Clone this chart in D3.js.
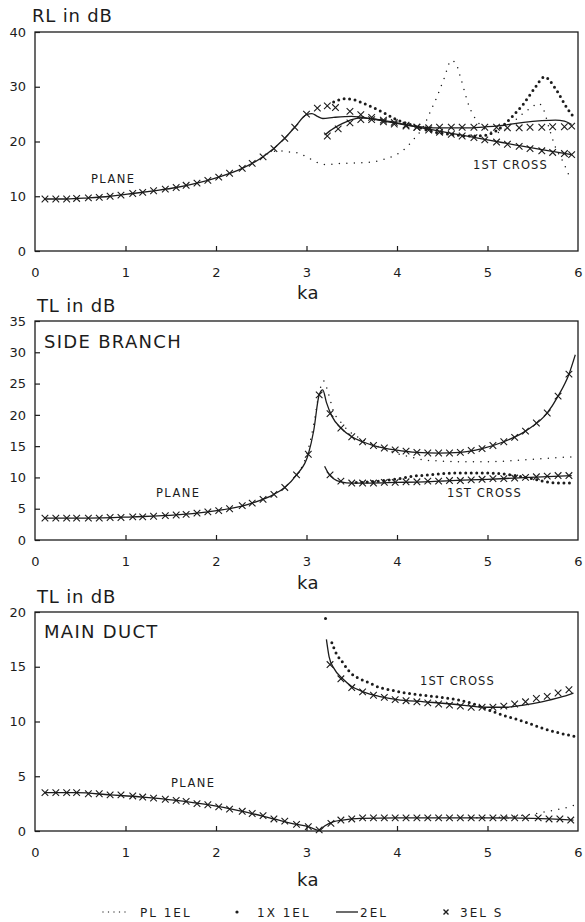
<!DOCTYPE html>
<html>
<head>
<meta charset="utf-8">
<script src="https://cdn.jsdelivr.net/npm/d3@7"></script>
<style>
  body { margin: 0; background: #fff; }
  svg { display: block; font-family: "DejaVu Sans", sans-serif; }
</style>
</head>
<body>
<script>
// axis values
const kaTicks = [0, 1, 2, 3, 4, 5, 6]
const kaInner = [1, 2, 3, 4, 5]
const rlTicks = [0, 10, 20, 30, 40]
const sideTicks = [0, 5, 10, 15, 20, 25, 30, 35]
const mainTicks = [0, 5, 10, 15, 20]

// RL panel: [ka, dB]
const rlPlane2EL = [[0.1,9.5],[0.35,9.5],[0.59,9.7],[0.83,10.0],[1.08,10.5],[1.31,11.0],[1.56,11.6],[1.79,12.4],[2.03,13.5],[2.29,15.1],[2.52,17.2],[2.76,20.6],[2.87,22.6],[3.0,24.9],[3.06,25.1],[3.12,24.6],[3.18,24.2],[3.3,24.4],[3.5,24.6],[3.7,24.2],[3.9,23.6],[4.1,23.0],[4.3,22.4],[4.5,21.8],[4.7,21.2],[5.0,20.3],[5.3,19.4],[5.6,18.5],[5.93,17.6]]
const rlCross2EL = [[3.2,21.2],[3.3,22.4],[3.4,23.3],[3.5,24.0],[3.6,24.3],[3.8,24.0],[4.0,23.4],[4.2,22.8],[4.4,22.5],[4.6,22.5],[4.8,22.5],[5.0,22.7],[5.2,23.0],[5.4,23.5],[5.6,23.8],[5.75,23.9],[5.85,23.7],[5.93,23.1]]
const rlPlane3ELS = [[0.11,9.5],[0.23,9.5],[0.35,9.5],[0.46,9.6],[0.59,9.7],[0.71,9.8],[0.83,10.0],[0.95,10.2],[1.08,10.5],[1.19,10.7],[1.31,11.0],[1.44,11.3],[1.56,11.6],[1.67,12.0],[1.79,12.4],[1.91,12.9],[2.03,13.5],[2.15,14.2],[2.29,15.1],[2.4,16.0],[2.52,17.2],[2.64,18.7],[2.76,20.6],[2.87,22.6],[3.0,25.0],[3.12,26.1],[3.23,26.5],[3.32,26.2],[3.48,25.5],[3.6,24.9],[3.72,24.4],[3.85,23.9],[3.97,23.5],[4.1,23.0],[4.22,22.6],[4.35,22.1],[4.47,21.7],[4.6,21.3],[4.72,21.0],[4.85,20.7],[4.97,20.3],[5.1,19.9],[5.22,19.5],[5.35,19.1],[5.47,18.7],[5.6,18.3],[5.72,18.0],[5.85,17.8],[5.93,17.6]]
const rlCross3ELS = [[3.23,21.0],[3.35,22.3],[3.48,23.4],[3.6,24.0],[3.72,24.0],[3.85,23.6],[3.97,23.2],[4.1,22.8],[4.22,22.6],[4.35,22.5],[4.47,22.6],[4.6,22.6],[4.72,22.6],[4.85,22.6],[4.97,22.6],[5.1,22.6],[5.22,22.5],[5.35,22.5],[5.47,22.6],[5.6,22.6],[5.72,22.7],[5.85,22.7],[5.93,22.8]]
const rlPL1EL = [[2.5,17.0],[2.6,18.0],[2.7,18.3],[2.8,18.1],[2.9,17.9],[3.0,17.2],[3.1,16.3],[3.2,15.8],[3.4,16.0],[3.6,16.1],[3.8,16.5],[3.95,17.3],[4.07,18.4],[4.18,20.3],[4.29,22.7],[4.37,25.5],[4.44,28.1],[4.52,31.5],[4.6,34.8],[4.65,34.3],[4.7,31.8],[4.8,26.3],[4.9,23.4],[5.0,22.0],[5.1,21.6],[5.2,22.3],[5.3,23.8],[5.4,25.2],[5.5,26.4],[5.56,27.0],[5.62,25.8],[5.68,22.5],[5.75,19.0],[5.84,16.1],[5.92,13.0]]
const rl1X1EL = [[3.3,27.2],[3.42,27.8],[3.53,27.6],[3.64,26.9],[3.75,26.1],[3.86,25.2],[3.97,24.2],[4.09,23.4],[4.2,22.8],[4.31,22.2],[4.42,21.7],[4.6,21.3],[4.78,21.0],[4.96,21.1],[5.06,21.6],[5.18,23.0],[5.27,24.5],[5.39,26.7],[5.52,29.7],[5.63,31.8],[5.75,29.7],[5.88,26.1],[5.95,24.5]]

// side branch TL panel
const sidePlane2EL = [[0.1,3.5],[0.59,3.5],[1.08,3.7],[1.56,4.0],[1.91,4.5],[2.15,5.0],[2.4,5.9],[2.64,7.3],[2.76,8.4],[2.89,10.4],[3.02,13.7],[3.08,17.5],[3.14,23.2],[3.18,24.0],[3.22,22.0],[3.28,19.8],[3.38,17.9],[3.5,16.5],[3.62,15.7],[3.74,15.1],[3.86,14.7],[3.98,14.4],[4.22,14.0],[4.46,13.9],[4.7,14.0],[4.94,14.6],[5.18,15.7],[5.42,17.4],[5.66,20.3],[5.78,23.0],[5.9,26.5],[5.97,29.6]]
const sideCross2EL = [[3.2,11.8],[3.25,10.5],[3.3,9.8],[3.38,9.3],[3.5,9.1],[3.7,9.1],[4.0,9.2],[4.3,9.3],[4.6,9.5],[5.0,9.7],[5.3,9.9],[5.6,10.1],[5.93,10.3]]
const sidePlane3ELS = [[0.11,3.5],[0.23,3.5],[0.35,3.5],[0.46,3.5],[0.59,3.5],[0.71,3.5],[0.83,3.6],[0.95,3.6],[1.08,3.7],[1.19,3.7],[1.31,3.8],[1.44,3.9],[1.56,4.0],[1.67,4.1],[1.79,4.3],[1.91,4.5],[2.03,4.7],[2.15,5.0],[2.29,5.5],[2.4,5.9],[2.52,6.5],[2.64,7.3],[2.76,8.4],[2.89,10.4],[3.02,13.7],[3.14,23.2],[3.26,20.2],[3.38,17.9],[3.5,16.5],[3.62,15.7],[3.74,15.1],[3.86,14.7],[3.98,14.4],[4.1,14.2],[4.22,14.0],[4.34,13.9],[4.46,13.9],[4.58,13.9],[4.7,14.0],[4.82,14.3],[4.94,14.6],[5.06,15.1],[5.18,15.7],[5.3,16.4],[5.42,17.4],[5.54,18.7],[5.66,20.3],[5.78,23.0],[5.9,26.5]]
const sideCross3ELS = [[3.26,10.4],[3.38,9.4],[3.5,9.1],[3.62,9.1],[3.74,9.1],[3.86,9.2],[3.98,9.2],[4.1,9.3],[4.22,9.3],[4.34,9.4],[4.46,9.4],[4.58,9.5],[4.7,9.5],[4.82,9.6],[4.94,9.7],[5.06,9.8],[5.18,9.8],[5.3,9.9],[5.42,10.0],[5.54,10.1],[5.66,10.2],[5.78,10.3],[5.9,10.3]]
const sidePL1EL = [[2.9,10.6],[3.0,13.5],[3.08,18.5],[3.14,23.5],[3.19,25.4],[3.24,23.5],[3.3,20.5],[3.38,18.8],[3.46,17.5],[3.55,16.6],[3.65,15.8],[3.75,15.2],[3.85,14.6],[3.95,14.1],[4.05,13.6],[4.14,13.3],[4.3,12.8],[4.5,12.6],[4.7,12.5],[5.0,12.5],[5.2,12.6],[5.4,12.8],[5.6,13.0],[5.8,13.2],[5.95,13.3]]
const side1X1EL = [[3.55,9.2],[3.7,9.3],[3.86,9.5],[4.02,9.8],[4.18,10.2],[4.34,10.4],[4.5,10.6],[4.66,10.7],[4.82,10.7],[4.98,10.7],[5.14,10.6],[5.3,10.3],[5.46,9.9],[5.62,9.4],[5.78,9.1],[5.96,9.1]]

// main duct TL panel
const mainPlane2EL = [[0.1,3.5],[0.46,3.5],[0.83,3.3],[1.19,3.1],[1.56,2.8],[1.91,2.4],[2.29,1.8],[2.64,1.1],[2.89,0.6],[3.02,0.4],[3.14,0.05],[3.2,0.45],[3.3,0.85],[3.4,1.0],[3.6,1.15],[4.0,1.2],[5.0,1.2],[5.5,1.15],[5.95,1.0]]
const mainCross2EL = [[3.22,17.5],[3.25,15.9],[3.3,14.9],[3.4,13.9],[3.5,13.2],[3.6,12.8],[3.7,12.5],[3.8,12.3],[4.0,12.0],[4.3,11.8],[4.6,11.6],[5.0,11.3],[5.2,11.3],[5.4,11.5],[5.6,11.8],[5.8,12.2],[5.95,12.6]]
const mainPlane3ELS = [[0.11,3.5],[0.23,3.5],[0.35,3.5],[0.46,3.5],[0.59,3.4],[0.71,3.4],[0.83,3.3],[0.95,3.3],[1.08,3.2],[1.19,3.1],[1.31,3.0],[1.44,2.9],[1.56,2.8],[1.67,2.7],[1.79,2.5],[1.91,2.4],[2.03,2.2],[2.15,2.0],[2.29,1.8],[2.4,1.6],[2.52,1.4],[2.64,1.1],[2.76,0.9],[2.89,0.6],[3.02,0.4],[3.14,0.1],[3.27,0.7],[3.38,1.0],[3.5,1.1],[3.62,1.2],[3.74,1.2],[3.86,1.2],[3.98,1.2],[4.1,1.2],[4.22,1.2],[4.34,1.2],[4.46,1.2],[4.58,1.2],[4.7,1.2],[4.82,1.2],[4.94,1.2],[5.06,1.2],[5.18,1.2],[5.3,1.2],[5.42,1.2],[5.56,1.2],[5.68,1.1],[5.8,1.1],[5.92,1.0]]
const mainCross3ELS = [[3.26,15.2],[3.38,13.9],[3.5,13.1],[3.62,12.7],[3.74,12.4],[3.86,12.2],[3.98,12.0],[4.1,11.9],[4.22,11.8],[4.34,11.7],[4.46,11.6],[4.58,11.5],[4.7,11.4],[4.82,11.3],[4.94,11.3],[5.06,11.3],[5.18,11.4],[5.3,11.6],[5.42,11.8],[5.54,12.1],[5.66,12.3],[5.78,12.6],[5.9,12.9]]
const mainPL1EL = [[4.8,1.2],[5.1,1.25],[5.3,1.35],[5.5,1.55],[5.7,1.85],[5.9,2.2],[5.98,2.4]]
const main1X1ELTop = [[3.21,19.4]]
const main1X1EL = [[3.28,17.2],[3.33,16.2],[3.4,15.4],[3.46,14.7],[3.52,14.2],[3.59,13.9],[3.7,13.5],[3.81,13.1],[3.92,12.9],[4.1,12.6],[4.29,12.4],[4.5,12.2],[4.66,12.0],[4.85,11.6],[5.03,11.0],[5.2,10.5],[5.4,10.0],[5.6,9.4],[5.77,9.0],[5.99,8.6]]

const legendLabels = ['PL 1EL', '1X 1EL', '2EL', '3EL S']

const ink = '#1c1c1c'
const layout = { width: 585, height: 922, left: 35, right: 578 }

const panels = [
    { top: 32, bottom: 251, max: 40, ticks: rlTicks, title: 'RL in dB', titleY: 22, titleX: 32, kaY: 299,
      region: null, plane: [91, 183], cross: [473, 169],
      lines: [rlPlane2EL, rlCross2EL], crosses: [rlPlane3ELS, rlCross3ELS], small: [rlPL1EL], big: [rl1X1EL], single: [] },
    { top: 321, bottom: 540, max: 35, ticks: sideTicks, title: 'TL in dB', titleY: 312, titleX: 37, kaY: 589,
      region: 'SIDE BRANCH', regionY: 348, plane: [156, 497], cross: [447, 497],
      lines: [sidePlane2EL, sideCross2EL], crosses: [sidePlane3ELS, sideCross3ELS], small: [sidePL1EL], big: [side1X1EL], single: [] },
    { top: 612, bottom: 831, max: 20, ticks: mainTicks, title: 'TL in dB', titleY: 603, titleX: 37, kaY: 886,
      region: 'MAIN DUCT', regionY: 638, plane: [171, 787], cross: [420, 685],
      lines: [mainPlane2EL, mainCross2EL], crosses: [mainPlane3ELS, mainCross3ELS], small: [mainPL1EL], big: [main1X1EL], single: main1X1ELTop }
]

const crossShape = 'M-3.3,-3.3L3.3,3.3M-3.3,3.3L3.3,-3.3'

const svg = d3.select('body').append('svg')
    .attr('width', layout.width)
    .attr('height', layout.height)
    .attr('viewBox', `0 0 ${layout.width} ${layout.height}`)

const x = d3.scaleLinear().domain([0, 6]).range([layout.left, layout.right])

function styleAxis(g) {
    g.select('.domain').remove()
    g.selectAll('line').attr('stroke', ink).attr('stroke-width', 1.2)
    g.selectAll('text').attr('fill', ink).attr('font-size', 13).attr('font-family', '"DejaVu Sans", sans-serif')
}

function drawPanel(p) {
    const y = d3.scaleLinear().domain([0, p.max]).range([p.bottom, p.top])
    const g = svg.append('g')

    g.append('rect')
        .attr('x', layout.left).attr('y', p.top)
        .attr('width', layout.right - layout.left).attr('height', p.bottom - p.top)
        .attr('fill', 'none').attr('stroke', ink).attr('stroke-width', 1.3)

    g.append('g').attr('transform', `translate(0,${p.bottom})`)
        .call(d3.axisBottom(x).tickValues(kaInner).tickSize(-5).tickFormat(''))
        .call(styleAxis)
    g.append('g').attr('transform', `translate(0,${p.bottom})`)
        .call(d3.axisBottom(x).tickValues(kaTicks).tickSize(0).tickPadding(17).tickFormat(d3.format('d')))
        .call(styleAxis)
    g.append('g').attr('transform', `translate(${layout.left},0)`)
        .call(d3.axisLeft(y).tickValues(p.ticks).tickSize(-5).tickPadding(9).tickFormat(d3.format('d')))
        .call(styleAxis)

    const text = (tx, ty, s, size, ls) => g.append('text')
        .attr('x', tx).attr('y', ty).attr('font-size', size)
        .attr('letter-spacing', ls).attr('fill', ink).text(s)

    text(p.titleX, p.titleY, p.title, 18, 0.8)
    text(297, p.kaY, 'ka', 18, 0.5)
    if (p.region) text(44, p.regionY, p.region, 18, 1.3)
    text(p.plane[0], p.plane[1], 'PLANE', 11.5, 1.4)
    text(p.cross[0], p.cross[1], '1ST CROSS', 11.5, 1.1)

    const line = d3.line().x(d => x(d[0])).y(d => y(d[1])).curve(d3.curveMonotoneX)

    g.selectAll(null).data(p.small).join('path')
        .attr('d', line).attr('fill', 'none').attr('stroke', ink)
        .attr('stroke-width', 1.5).attr('stroke-linecap', 'round').attr('stroke-dasharray', '0 7.5')

    g.selectAll(null).data(p.big).join('path')
        .attr('d', line).attr('fill', 'none').attr('stroke', ink)
        .attr('stroke-width', 3).attr('stroke-linecap', 'round').attr('stroke-dasharray', '0 5.5')

    g.selectAll(null).data(p.single).join('circle')
        .attr('cx', d => x(d[0])).attr('cy', d => y(d[1])).attr('r', 1.5).attr('fill', ink)

    g.selectAll(null).data(p.lines).join('path')
        .attr('d', line).attr('fill', 'none').attr('stroke', ink).attr('stroke-width', 1.3)

    p.crosses.forEach(series => {
        g.selectAll(null).data(series).join('path')
            .attr('transform', d => `translate(${x(d[0])},${y(d[1])})`)
            .attr('d', crossShape).attr('stroke', ink).attr('stroke-width', 1.1).attr('fill', 'none')
    })
}

function drawLegend() {
    const g = svg.append('g').attr('transform', 'translate(0,912)')
    g.append('line').attr('x1', 103).attr('x2', 126).attr('stroke', '#444')
        .attr('stroke-width', 1.4).attr('stroke-linecap', 'round').attr('stroke-dasharray', '0 5.5')
    g.append('circle').attr('cx', 237).attr('cy', 0).attr('r', 1.6).attr('fill', ink)
    g.append('line').attr('x1', 336).attr('x2', 358).attr('stroke', ink).attr('stroke-width', 1.3)
    g.append('path').attr('transform', 'translate(446,0)').attr('d', 'M-2.5,-2.5L2.5,2.5M-2.5,2.5L2.5,-2.5')
        .attr('stroke', ink).attr('stroke-width', 1.4)
    const xs = [140, 257, 360, 460]
    g.selectAll('text').data(legendLabels).join('text')
        .attr('x', (d, i) => xs[i]).attr('y', 5)
        .attr('font-size', 12).attr('letter-spacing', 2).attr('fill', ink).text(d => d)
}

panels.forEach(drawPanel)
drawLegend()
</script>
</body>
</html>
